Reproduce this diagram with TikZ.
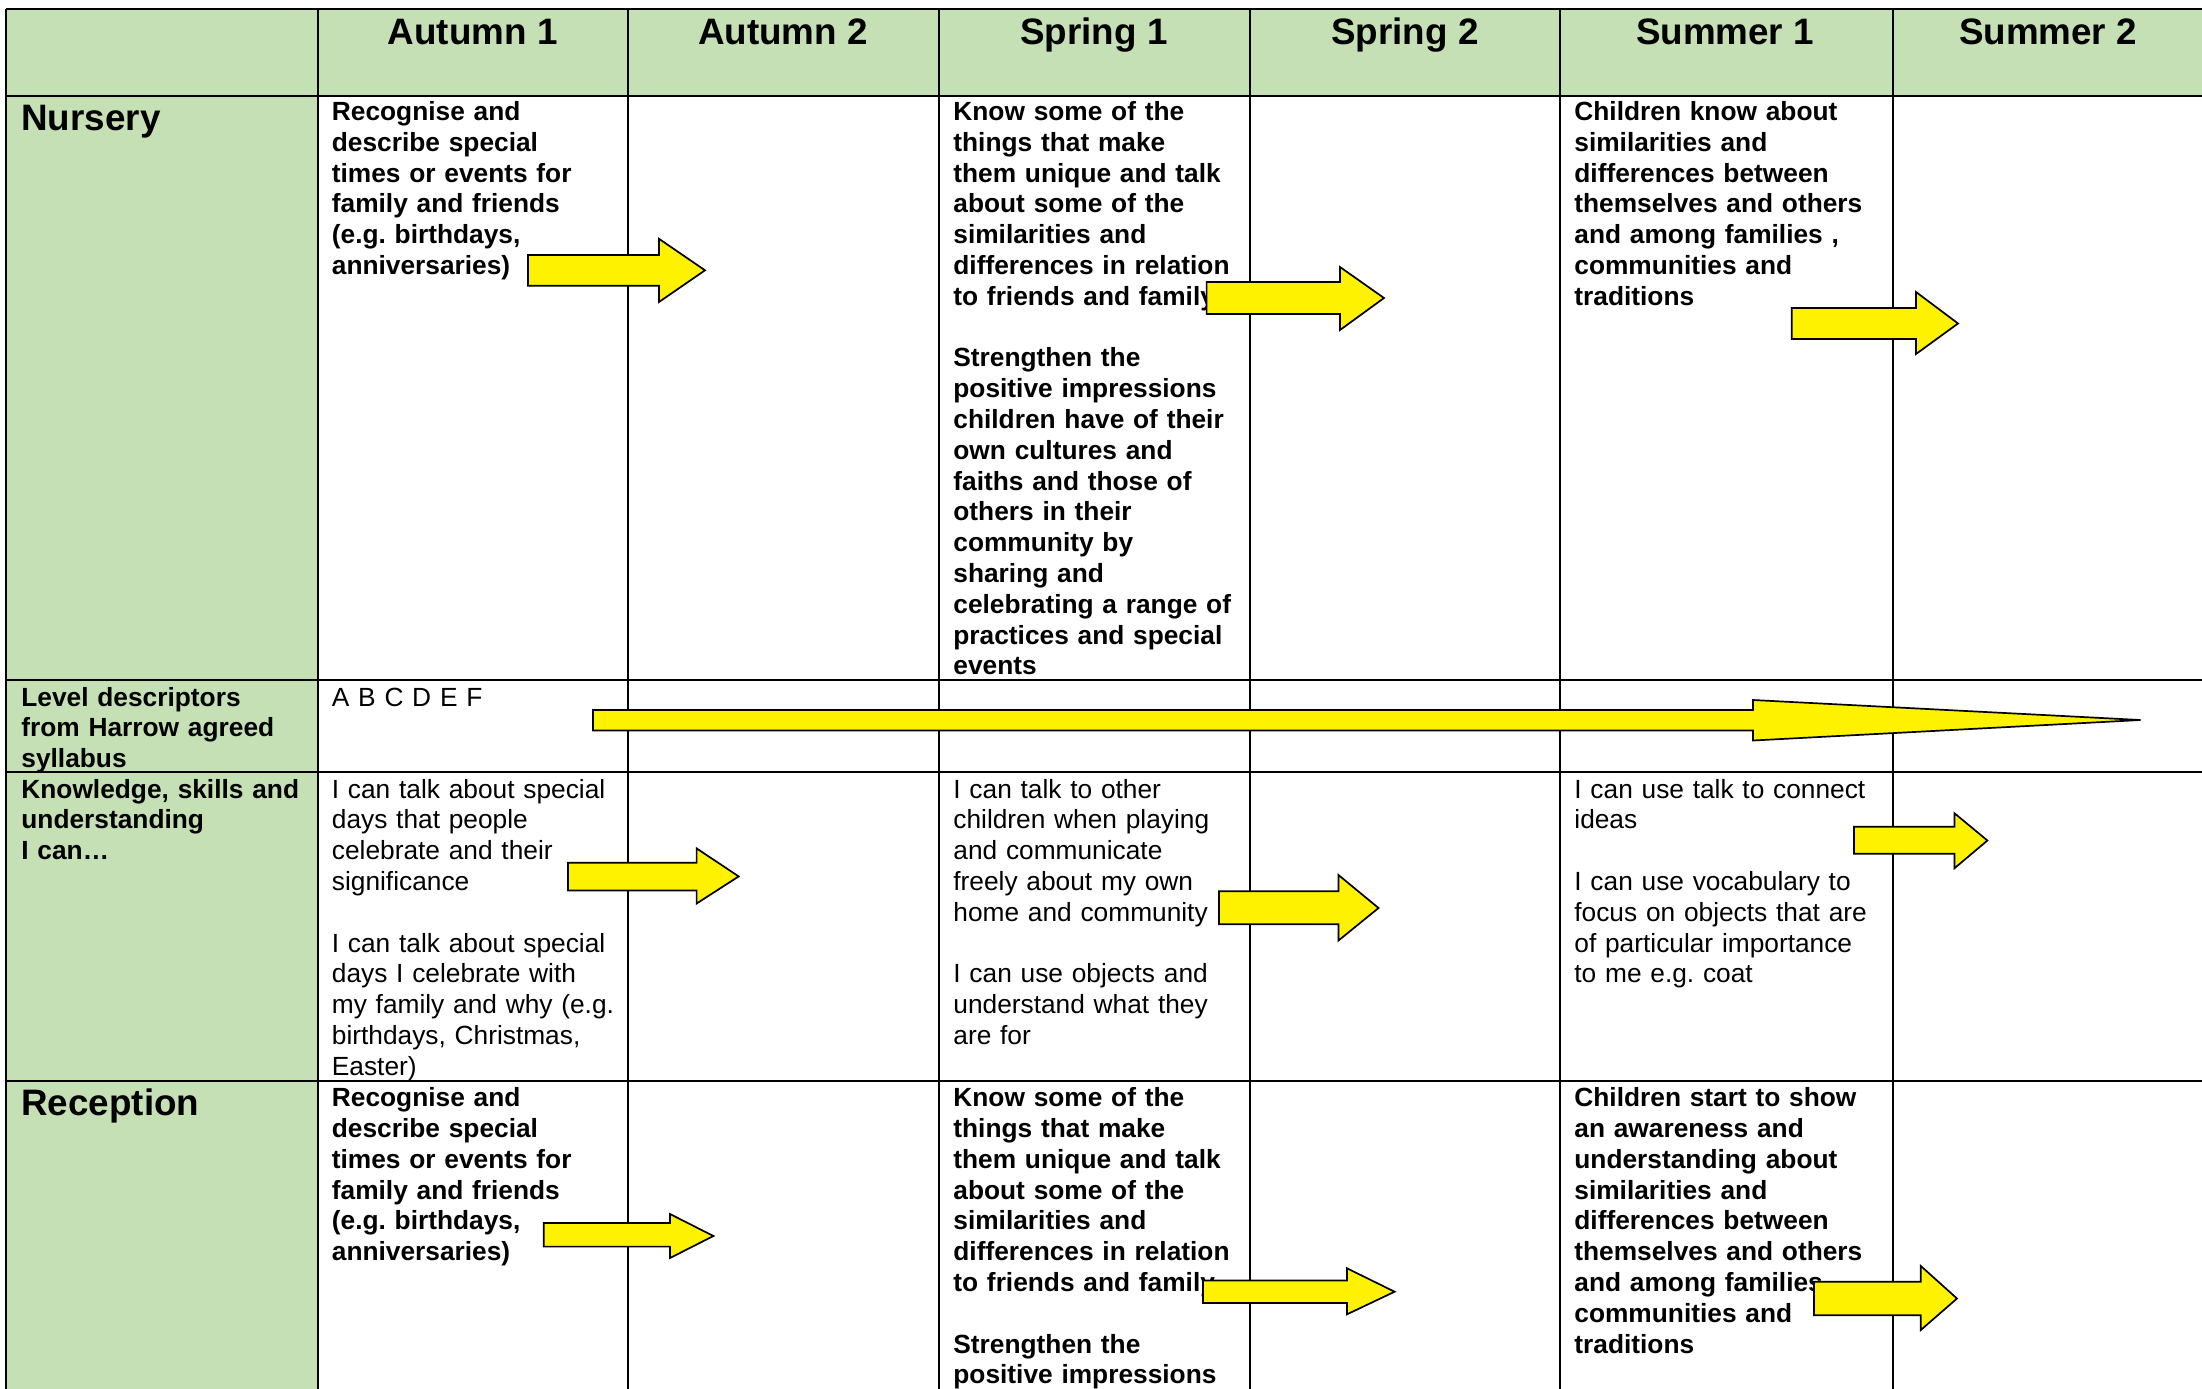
\documentclass[tikz,border=0pt]{standalone}
\usepackage{fontspec}
\setmainfont{Liberation Sans}
\frenchspacing
\definecolor{planGreen}{RGB}{197,224,180}
\newcommand{\cellfont}{\fontsize{13.15}{15.4}\selectfont}
\newcommand{\bigfont}{\fontsize{18.4}{21}\selectfont\bfseries}
% block arrow: left, shaft top, shaft bottom, head x, head top, head bottom, tip x, tip y
\newcommand{\fatarrow}[8]{%
  \draw[yarrow] (#1,#2) -- (#4,#2) -- (#4,#5) -- (#7,#8) -- (#4,#6) -- (#4,#3) -- (#1,#3) -- cycle;}
\tikzset{
  celltext/.style={anchor=base west, inner sep=0pt, text width=165pt, align=left, font=\cellfont},
  boldtext/.style={celltext, font=\cellfont\bfseries},
  headtext/.style={anchor=base, inner sep=0pt, font=\bigfont},
  rowlabel/.style={anchor=base west, inner sep=0pt, font=\bigfont},
  gridline/.style={line width=1pt, black},
  yarrow/.style={fill=yellow, draw=black, line width=0.85pt, line join=miter}
}

\begin{document}
\begin{tikzpicture}[x=0.5pt, y=-0.5pt]
  \useasboundingbox (0,0) rectangle (2202,1388);
  \clip (0,0) rectangle (2202,1388);

  % green header row and first column
  \fill[planGreen] (5.5,8.5) rectangle (2212,95.7);
  \fill[planGreen] (5.5,95.7) rectangle (317.5,1400);

  \foreach \y in {8.5,95.7,679.5,772,1081}
    \draw[gridline] (5.5,\y) -- (2212,\y);
  \foreach \x in {5.5,317.5,628,938.5,1250,1560,1893}
    \draw[gridline] (\x,8.5) -- (\x,1400);

  \foreach \name/\cx [count=\i] in {Autumn 1/472.7, Autumn 2/783, Spring 1/1094,
      Spring 2/1405, Summer 1/1725, Summer 2/2048}
    \node[headtext] (head\i) at (\cx,44.6) {\name};

  % Nursery
  \node[rowlabel] (nursery) at (21,130.8) {Nursery};
  \node[boldtext] (nurAut) at (331.5,120.5) {Recognise and\\ describe special\\ times or events for\\
    family and friends\\ (e.g. birthdays,\\ anniversaries)};
  \node[boldtext] (nurSpr) at (953,120.5) {Know some of the\\ things that make\\
    them unique and talk\\ about some of the\\ similarities and\\ differences in relation\\
    to friends and family\\ \mbox{}\\ Strengthen the\\ positive impressions\\
    children have of their\\ own cultures and\\ faiths and those of\\ others in their\\
    community by\\ sharing and\\ celebrating a range of\\ practices and special\\ events};
  \node[boldtext] (nurSum) at (1574,120.5) {Children know about\\ similarities and\\
    differences between\\ themselves and others\\ and among families ,\\ communities and\\ traditions};

  % Level descriptors
  \node[boldtext] (level) at (21,706) {Level descriptors\\ from Harrow agreed\\ syllabus};
  \node[celltext] (lvlAut) at (331.5,706) {A B C D E F};

  % Knowledge, skills and understanding
  \node[boldtext] (skills) at (21,798) {Knowledge, skills and\\ understanding\\ I can\dots};
  \node[celltext] (ksuAut) at (331.5,798) {I can talk about special\\ days that people\\
    celebrate and their\\ significance\\ \mbox{}\\ I can talk about special\\
    days I celebrate with\\ my family and why (e.g.\\ birthdays, Christmas,\\ Easter)};
  \node[celltext] (ksuSpr) at (953,798) {I can talk to other\\ children when playing\\
    and communicate\\ freely about my own\\ home and community\\ \mbox{}\\
    I can use objects and\\ understand what they\\ are for};
  \node[celltext] (ksuSum) at (1574,798) {I can use talk to connect\\ ideas\\ \mbox{}\\
    I can use vocabulary to\\ focus on objects that are\\ of particular importance\\ to me e.g. coat};

  % Reception
  \node[rowlabel] (reception) at (21,1115.7) {Reception};
  \node[boldtext] (recAut) at (331.5,1106.6) {Recognise and\\ describe special\\ times or events for\\
    family and friends\\ (e.g. birthdays,\\ anniversaries)};
  \node[boldtext] (recSpr) at (953,1106.6) {Know some of the\\ things that make\\
    them unique and talk\\ about some of the\\ similarities and\\ differences in relation\\
    to friends and family\\ \mbox{}\\ Strengthen the\\ positive impressions};
  \node[boldtext] (recSum) at (1574,1106.6) {Children start to show\\ an awareness and\\
    understanding about\\ similarities and\\ differences between\\ themselves and others\\
    and among families\\ communities and\\ traditions};

  % arrows
  \fatarrow{528}{255}{285.7}{659}{238.8}{302}{705}{270.3}
  \fatarrow{1206.6}{282}{314}{1340}{267}{330}{1384}{298}
  \fatarrow{1791.7}{308}{339}{1916}{292}{354}{1958}{323.5}
  \fatarrow{593}{710}{730.5}{1753}{700}{740.5}{2140.5}{720}
  \fatarrow{568}{862.8}{890.4}{696.6}{848.4}{903.5}{738.7}{876.4}
  \fatarrow{1219}{891.3}{924.2}{1338.5}{875}{940.5}{1378.5}{908}
  \fatarrow{1854}{826.7}{853.8}{1954.4}{813.2}{868.3}{1987.4}{840.5}
  \fatarrow{543.7}{1223}{1246.6}{670}{1214}{1258}{713.4}{1236}
  \fatarrow{1203}{1280.5}{1303}{1347}{1268.3}{1314.3}{1394.6}{1291.7}
  \fatarrow{1814}{1281.8}{1315.2}{1920.8}{1266}{1330}{1957}{1298.5}
\end{tikzpicture}
\end{document}
